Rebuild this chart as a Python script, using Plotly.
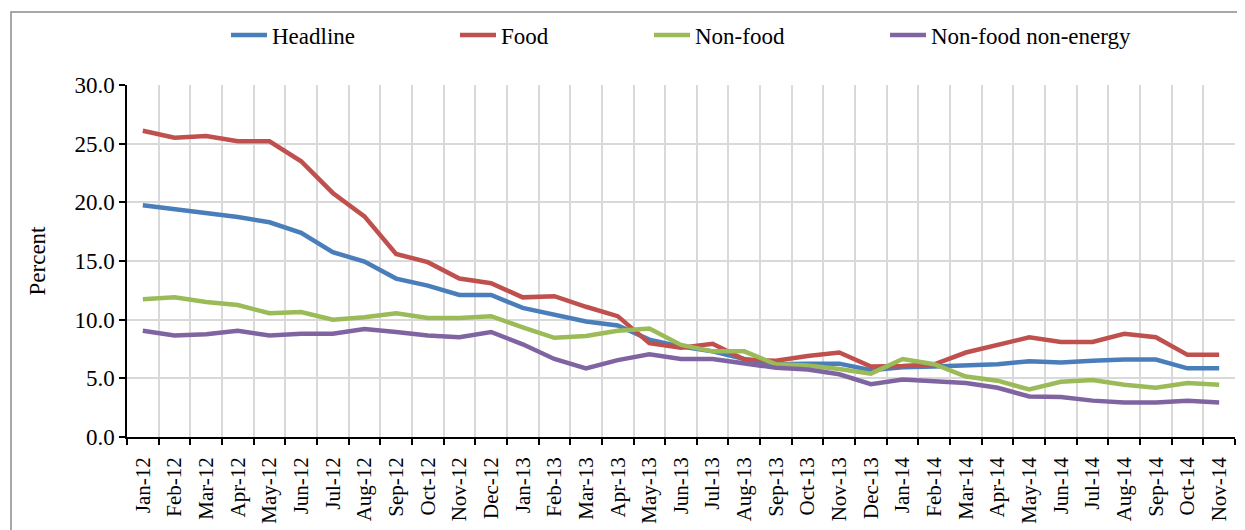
import plotly.graph_objects as go

months = ["Jan-12","Feb-12","Mar-12","Apr-12","May-12","Jun-12","Jul-12","Aug-12","Sep-12","Oct-12","Nov-12","Dec-12",
          "Jan-13","Feb-13","Mar-13","Apr-13","May-13","Jun-13","Jul-13","Aug-13","Sep-13","Oct-13","Nov-13","Dec-13",
          "Jan-14","Feb-14","Mar-14","Apr-14","May-14","Jun-14","Jul-14","Aug-14","Sep-14","Oct-14","Nov-14"]

headline = [19.75, 19.4, 19.05, 18.75, 18.3, 17.4, 15.75, 14.95, 13.5, 12.9, 12.1, 12.1,
            11.0, 10.45, 9.85, 9.5, 8.3, 7.7, 7.3, 6.65, 6.2, 6.25, 6.25, 5.7,
            5.95, 6.0, 6.1, 6.2, 6.45, 6.35, 6.5, 6.6, 6.6, 5.85, 5.85]
food = [26.1, 25.5, 25.65, 25.2, 25.2, 23.5, 20.8, 18.8, 15.6, 14.9, 13.5, 13.1,
        11.9, 12.0, 11.1, 10.3, 8.0, 7.6, 7.95, 6.6, 6.5, 6.9, 7.2, 6.0,
        6.05, 6.2, 7.2, 7.85, 8.5, 8.1, 8.1, 8.8, 8.5, 7.0, 7.0]
nonfood = [11.75, 11.9, 11.5, 11.25, 10.55, 10.65, 10.0, 10.2, 10.55, 10.15, 10.15, 10.3,
           9.35, 8.45, 8.6, 9.05, 9.25, 7.85, 7.3, 7.3, 6.2, 6.1, 5.8, 5.4,
           6.65, 6.2, 5.15, 4.8, 4.05, 4.7, 4.85, 4.45, 4.2, 4.6, 4.45]
nfne = [9.05, 8.65, 8.75, 9.05, 8.65, 8.8, 8.8, 9.2, 8.95, 8.65, 8.5, 8.95,
        7.9, 6.65, 5.85, 6.55, 7.05, 6.65, 6.65, 6.25, 5.9, 5.75, 5.35, 4.5,
        4.9, 4.75, 4.6, 4.2, 3.45, 3.4, 3.1, 2.95, 2.95, 3.1, 2.95]

series = [("Headline", headline, "#4A7EBB"),
          ("Food", food, "#C0504D"),
          ("Non-food", nonfood, "#9BBB59"),
          ("Non-food non-energy", nfne, "#8064A2")]

FONT = "Liberation Serif, Times New Roman, serif"

OFF = 8  # page body margin
# plot area geometry in page pixels, converted to figure pixels
L, R, T, B = 127 - OFF, 1235 - OFF, 85 - OFF, 437 - OFF
PW, PH = R - L, B - T
FW, FH = 1245, 530

legend_x_page = [226, 455, 649, 885]
legend_names = ["legend", "legend2", "legend3", "legend4"]

fig = go.Figure()
for (name, vals, col), lg in zip(series, legend_names):
    fig.add_trace(go.Scatter(x=months, y=vals, name=name, mode="lines",
                             line=dict(color=col, width=4.5), legend=lg))

legend_common = dict(orientation="h", yanchor="middle", y=(B - (35 - OFF)) / PH, xanchor="left",
                     font=dict(family=FONT, size=23, color="black"),
                     itemwidth=36, bgcolor="rgba(0,0,0,0)")
legends = {}
for lg, xp in zip(legend_names, legend_x_page):
    legends[lg] = dict(legend_common, x=(xp - OFF - L) / PW)

fig.update_layout(
    width=FW, height=FH,
    margin=dict(l=L, r=FW - R, t=T, b=FH - B, autoexpand=False),
    paper_bgcolor="white", plot_bgcolor="white",
    font=dict(family=FONT, size=21, color="black"),
    showlegend=True,
    xaxis=dict(type="category", range=[-0.5, 34.5], tickson="boundaries",
               showgrid=True, gridcolor="#D9D9D9", gridwidth=1.5,
               showline=True, linecolor="black", linewidth=1.5,
               ticks="outside", ticklen=6, tickcolor="black", tickwidth=1.5,
               ticklabelstandoff=10,
               tickangle=-90, tickfont=dict(family=FONT, size=21)),
    yaxis=dict(range=[0, 30], dtick=5, tickformat=".1f",
               showgrid=True, gridcolor="#D9D9D9", gridwidth=1.5,
               showline=True, linecolor="black", linewidth=1.5,
               ticks="outside", ticklen=6, tickcolor="black", tickwidth=1.5,
               zeroline=False, tickfont=dict(family=FONT, size=23),
               title=dict(text="Percent", font=dict(family=FONT, size=23), standoff=22)),
    **legends,
)

fig.add_shape(type="rect", xref="paper", yref="paper",
              x0=(11 - OFF - L) / PW, x1=(1250 - OFF - L) / PW,
              y0=(B - 560) / PH, y1=(B - (12 - OFF)) / PH,
              line=dict(color="#8C8C8C", width=1.5), fillcolor="rgba(0,0,0,0)", layer="below")

fig.write_html("out.html")
